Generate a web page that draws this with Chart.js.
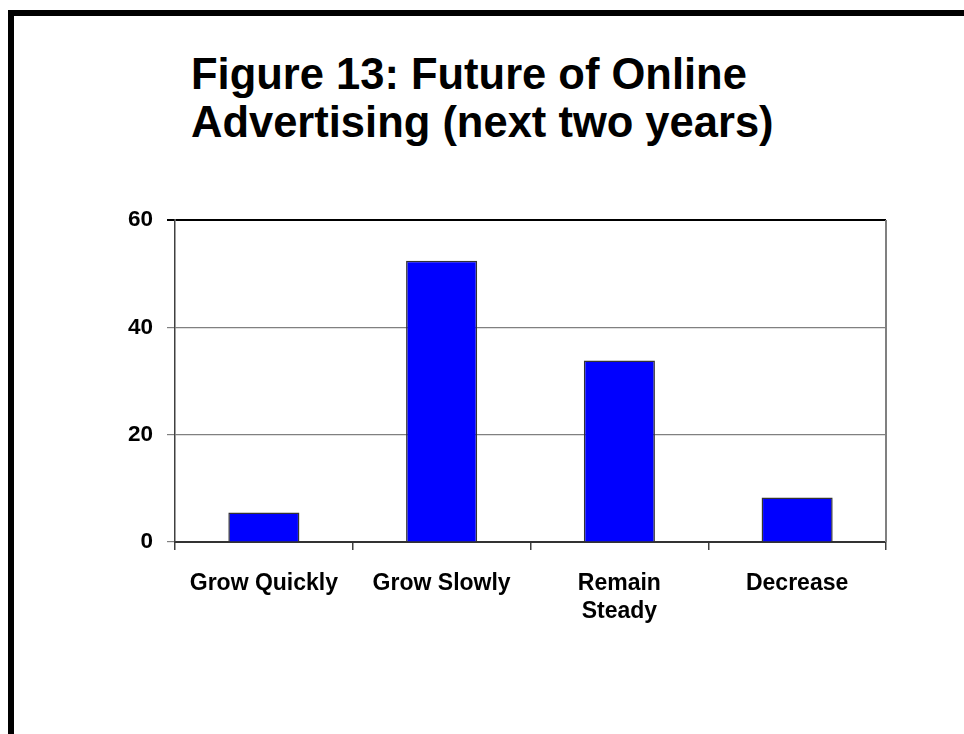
<!DOCTYPE html>
<html>
<head>
<meta charset="utf-8">
<title>Future of Online Advertising</title>
<script src="https://cdn.jsdelivr.net/npm/chart.js@4.4.1/dist/chart.umd.min.js"></script>
<style>
  html, body { margin: 0; padding: 0; background: #fff; }
  body { width: 964px; height: 734px; position: relative; overflow: hidden; }
  /* slide frame: only top and left edges fall inside the page */
  #frame {
    position: absolute; left: 8px; top: 10px; right: -20px; bottom: -20px;
    border-top: 6px solid #000; border-left: 6px solid #000;
  }
  #title {
    position: absolute; left: 191px; top: 50px;
    font-family: "Liberation Sans", Arial, sans-serif;
    font-weight: bold; font-size: 43.5px; line-height: 48px; color: #000;
    white-space: nowrap;
  }
  #myChart { position: absolute; left: 0; top: 0; }
</style>
</head>
<body>
<div id="frame"></div>
<div id="title">Figure 13: Future of Online<br>Advertising (next two years)</div>
<canvas id="myChart" width="964" height="734"></canvas>
<script>
// 응답 비율 (%)
var categories = ['Grow Quickly', 'Grow Slowly', ['Remain', 'Steady'], 'Decrease'];
var percents = [5.5, 52.4, 33.8, 8.3];
var yTicks = [0, 20, 40, 60];

var fontFamily = '"Liberation Sans", Arial, sans-serif';

// 차트 영역 오른쪽 테두리
var rightEdge = {
    id: 'rightEdge',
    afterDatasetsDraw: function(chart) {
        var ctx = chart.ctx;
        var area = chart.chartArea;
        ctx.save();
        ctx.strokeStyle = '#808080';
        ctx.lineWidth = 2;
        ctx.beginPath();
        ctx.moveTo(area.right, area.top);
        ctx.lineTo(area.right, area.bottom);
        ctx.stroke();
        ctx.restore();
    }
};

var ctx = document.getElementById('myChart').getContext('2d');
var myChart = new Chart(ctx, {
    type: 'bar',
    data: {
        labels: categories,
        datasets: [{
            data: percents,
            backgroundColor: '#0000ff',
            borderColor: '#333333',
            borderWidth: 1.5,
            barPercentage: 0.4,
            categoryPercentage: 1.0
        }]
    },
    options: {
        responsive: false,
        animation: false,
        devicePixelRatio: 1,
        layout: { padding: { left: 100, right: 78, top: 220, bottom: 92 } },
        plugins: {
            legend: { display: false },
            title: { display: false },
            tooltip: { enabled: false }
        },
        scales: {
            x: {
                offset: true,
                grid: {
                    offset: true,
                    drawOnChartArea: false,
                    drawTicks: true,
                    tickLength: 8,
                    color: '#404040',
                    lineWidth: 1.5
                },
                border: { display: true, color: '#333333', width: 2 },
                ticks: {
                    color: '#000',
                    padding: 20,
                    maxRotation: 0,
                    autoSkip: false,
                    font: { family: fontFamily, size: 23, weight: 'bold', lineHeight: 1.2 }
                },
                afterFit: function(scale) { scale.height = 100; }
            },
            y: {
                min: 0,
                max: 60,
                ticks: {
                    stepSize: 20,
                    color: '#000',
                    padding: 14,
                    font: { family: fontFamily, size: 22.5, weight: 'bold' }
                },
                grid: {
                    color: function(c) { return c.tick && c.tick.value === yTicks[yTicks.length - 1] ? '#000000' : '#808080'; },
                    lineWidth: function(c) { return c.tick && c.tick.value === yTicks[yTicks.length - 1] ? 2 : 1.2; },
                    drawTicks: true,
                    tickLength: 8
                },
                border: { display: true, color: '#404040', width: 1.5 },
                afterFit: function(scale) { scale.width = 75; }
            }
        }
    },
    plugins: [rightEdge]
});
</script>
</body>
</html>
